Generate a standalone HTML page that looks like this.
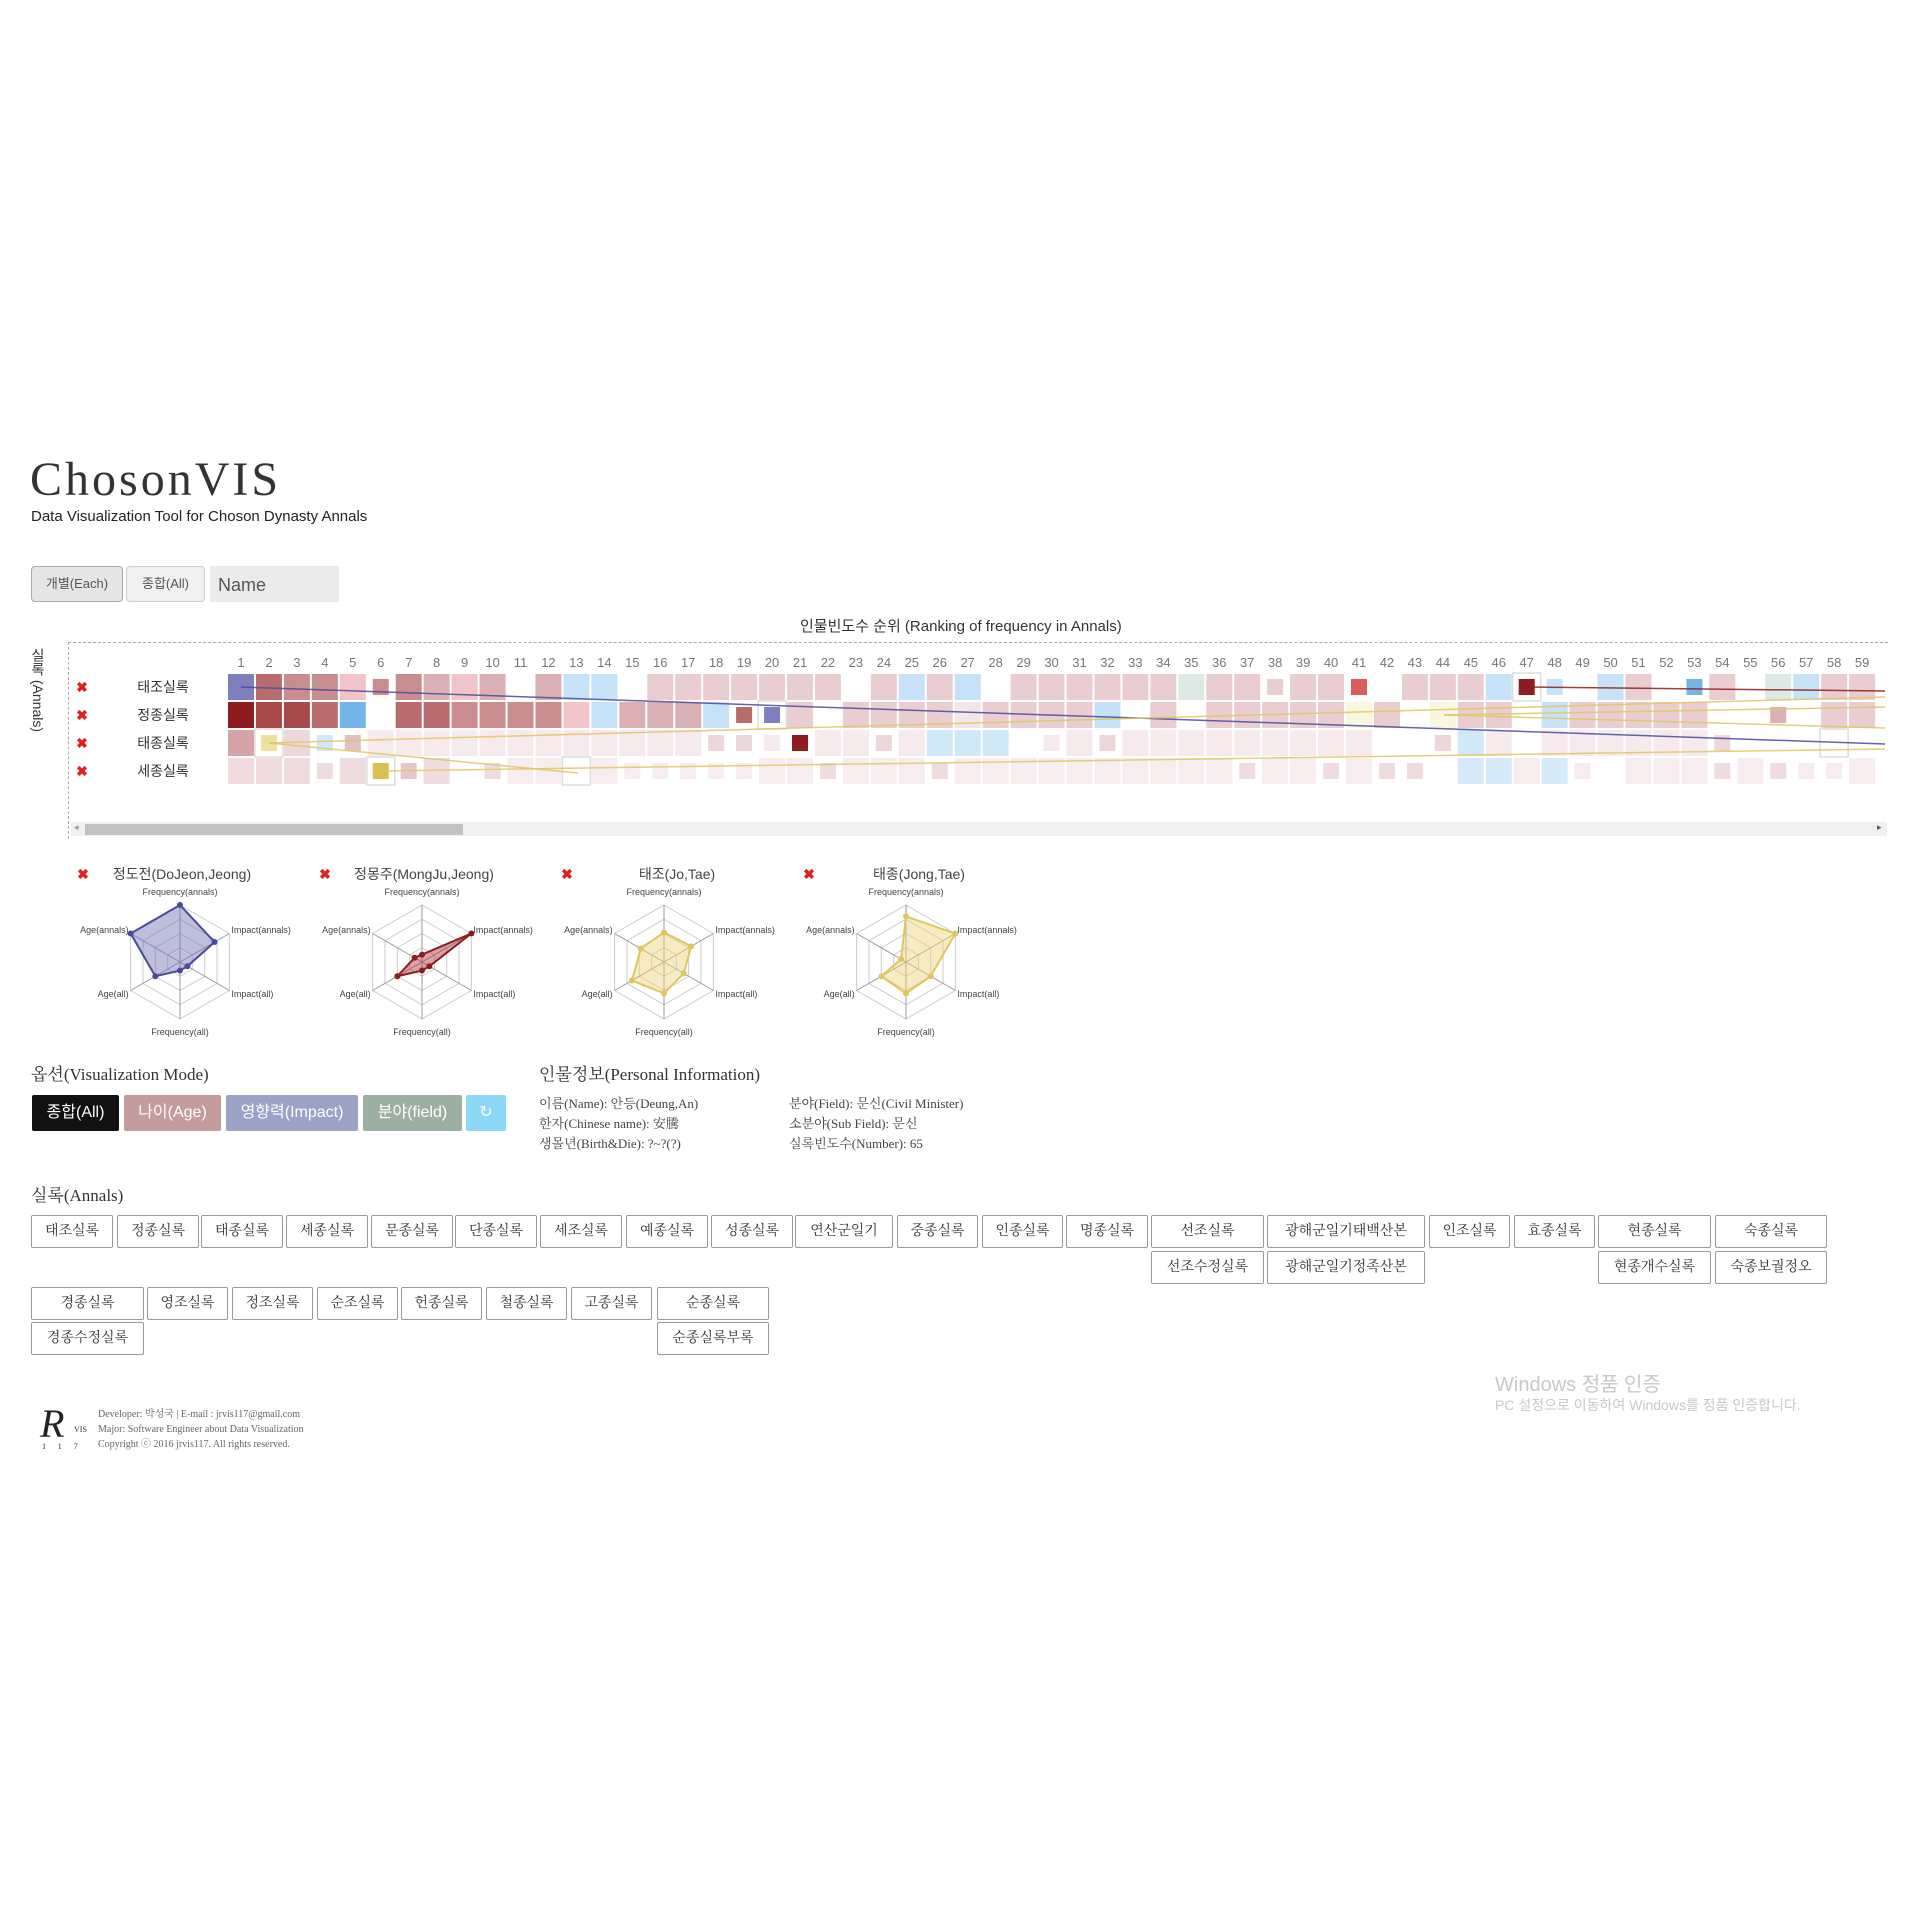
<!DOCTYPE html>
<html><head><meta charset="utf-8">
<style>
body{margin:0;width:1920px;height:1920px;background:#fff;position:relative;font-family:"Liberation Sans","Noto Sans CJK KR",sans-serif;color:#333;overflow:hidden}
.a{position:absolute;white-space:nowrap}
.btn{position:absolute;box-sizing:border-box;border:1px solid #999;background:#fff;font-family:"Liberation Serif","Noto Serif CJK SC","Noto Sans CJK KR",serif;font-size:14px;text-align:center;color:#333;border-radius:2px}
.mb{position:absolute;top:1095px;height:36px;line-height:36px;color:#fff;font-size:16px;text-align:center;border-radius:2px}
.serif{font-family:"Liberation Serif","Noto Serif CJK SC","Noto Sans CJK KR",serif}
</style></head><body>
<div class="a serif" style="left:30px;top:452px;font-size:48px;letter-spacing:3px;color:#333">ChosonVIS</div>
<div class="a" style="left:31px;top:508px;font-size:15px;color:#222">Data Visualization Tool for Choson Dynasty Annals</div>
<div class="a" style="left:31px;top:566px;width:92px;height:36px;box-sizing:border-box;border:1px solid #aaa;border-radius:4px;background:#e6e6e6;font-size:13px;line-height:34px;text-align:center;color:#555">개별(Each)</div>
<div class="a" style="left:126px;top:566px;width:79px;height:36px;box-sizing:border-box;border:1px solid #ccc;border-radius:4px;background:#f0f0f0;font-size:13px;line-height:34px;text-align:center;color:#555">종합(All)</div>
<div class="a" style="left:210px;top:566px;width:129px;height:36px;background:#ebebeb;font-size:18px;line-height:38px;padding-left:8px;box-sizing:border-box;color:#555">Name</div>
<div class="a" style="left:800px;top:615px;font-size:15px;color:#333">인물빈도수 순위 (Ranking of frequency in Annals)</div>
<div class="a" style="left:68px;top:642px;width:1819px;height:196px;border-top:1px dashed #aaa;border-left:1px dashed #aaa"></div>
<div class="a" style="left:28px;top:648px;font-size:14px;writing-mode:vertical-rl;color:#333">실록 (Annals)</div>
<div class="a" style="left:71px;top:822px;width:1816px;height:14px;background:#f0f0f0"></div>
<div class="a" style="left:85px;top:824px;width:378px;height:11px;background:#c1c1c1"></div>
<div class="a" style="left:74px;top:822px;font-size:9px;color:#999">◂</div>
<div class="a" style="left:1877px;top:822px;font-size:9px;color:#555">▸</div>
<svg class="a" id="hm" style="left:0;top:640px" width="1920" height="180"></svg>
<svg class="a" id="rad" style="left:0;top:860px" width="1100" height="190"></svg>

<div class="a serif" style="left:31px;top:1060px;font-size:17px">옵션(Visualization Mode)</div>
<div class="mb" style="left:32px;width:87px;background:#111">종합(All)</div>
<div class="mb" style="left:124px;width:97px;background:#c49c9c">나이(Age)</div>
<div class="mb" style="left:226px;width:132px;background:#9aa3c6">영향력(Impact)</div>
<div class="mb" style="left:363px;width:99px;background:#9cb0a1">분야(field)</div>
<div class="mb" style="left:466px;width:40px;background:#8dd7f7">↻</div>
<div class="a serif" style="left:539px;top:1060px;font-size:17px">인물정보(Personal Information)</div>
<div class="a serif" style="left:539px;top:1094px;font-size:13px;line-height:20px;color:#444">이름(Name): 안등(Deung,An)<br>한자(Chinese name): 安騰<br>생몰년(Birth&amp;Die): ?~?(?)</div>
<div class="a serif" style="left:789px;top:1094px;font-size:13px;line-height:20px;color:#444">분야(Field): 문신(Civil Minister)<br>소분야(Sub Field): 문신<br>실록빈도수(Number): 65</div>
<div class="a serif" style="left:31px;top:1181px;font-size:17px">실록(Annals)</div>
<div id="btns"></div>

<div class="a serif" style="left:40px;top:1400px;font-size:40px;font-style:italic;color:#222">R</div>
<div class="a serif" style="left:74px;top:1425px;font-size:8px">VIS</div>
<div class="a serif" style="left:42px;top:1442px;font-size:8px;letter-spacing:12px">117</div>
<div class="a serif" style="left:98px;top:1407px;font-size:10px;line-height:15px;color:#666">Developer: 박성국 | E-mail : jrvis117@gmail.com<br>Major: Software Engineer about Data Visualization<br>Copyright ⓒ 2016 jrvis117. All rights reserved.</div>
<div class="a" style="left:1495px;top:1368px;font-size:20px;color:#c8c8c8">Windows 정품 인증</div>
<div class="a" style="left:1495px;top:1395px;font-size:14px;color:#c8c8c8">PC 설정으로 이동하여 Windows를 정품 인증합니다.</div>

<script>
var NS="http://www.w3.org/2000/svg";
function el(p,t,a){var e=document.createElementNS(NS,t);for(var k in a)e.setAttribute(k,a[k]);p.appendChild(e);return e;}
var hm=document.getElementById('hm');var oy=640;
var C={P:'#7f7fbd','7':'#8e1c1e','6':'#a84a4c','5':'#b86c6e','4':'#c98d90','3':'#dbb0b4','2':'#e9cdd1','1':'#f4e5e8',p:'#f1c5c8',b:'#c5e2f8',B:'#74b4e6',g:'#dde9e3',Y:'#f0e0a0',y:'#fbf6e0',D:'#dc5c5c',Q:'#d9c050'};
var R=[
"P 5 4 4 p s4 4 3 p 3 . 3 b b . 2 2 2 2 2 2 2 . 2 b 2 b . 2 2 2 2 2 2 g 2 2 s2 2 2 sD . 2 2 2 b so7 sb . b 2 . sB 2 . g b 2 2",
"7 6 6 5 B . 5 5 4 4 4 4 p b 3 3 3 b s5 soP 2 . 2 2 2 2 1 2 2 2 2 b . 2 . 2 2 2 2 2 y 2 . y 2 2 . b 2 2 2 2 2 . . s3 . 2 2",
"4 soY 2 sb s3 1 1 1 1 1 1 1 1 1 1 1 1 s2 s2 s1 s7 1 1 s2 1 b b b . s1 1 s2 1 1 1 1 1 1 1 1 1 . . s2 b 1 . 1 1 1 1 1 1 s2 . . . o",
"2 2 2 s2 2 soQ s3 2 . s2 1 1 o 1 s1 s1 s1 s1 s1 1 1 s2 1 1 1 s2 1 1 1 1 1 1 1 1 1 1 s2 1 1 s2 1 s2 s2 . b b 1 b s1 . 1 1 1 s2 1 s2 s1 s1 1"];
var names=['태조실록','정종실록','태종실록','세종실록'];
function cx(c){return 241+(c-1)*27.95;}
for(var c=1;c<=59;c++){var t=el(hm,'text',{x:cx(c),y:667-oy,'text-anchor':'middle','font-size':13,fill:'#777','font-family':'Liberation Sans'});t.textContent=c;}
for(var r=0;r<4;r++){var cy=687+r*28-oy;
 var t=el(hm,'text',{x:82,y:cy+5,'text-anchor':'middle','font-size':14,'font-weight':'bold',fill:'#e02020'});t.textContent='✖';
 t=el(hm,'text',{x:163,y:cy+5,'text-anchor':'middle','font-size':14,fill:'#333','font-family':'Noto Sans CJK KR'});t.textContent=names[r];
 var tk=R[r].split(' ');var op=r<2?1:(r==2?0.8:0.7);
 for(var c=1;c<=59;c++){var k=tk[c-1]||'.';if(k=='.')continue;var sm=false,ol=false;
  if(k[0]=='s'){sm=true;k=k.slice(1);}if(k[0]=='o'){ol=true;k=k.slice(1);}
  var x=cx(c);
  if(ol)el(hm,'rect',{x:x-14,y:cy-14,width:28,height:28,fill:'#fff',stroke:'#ddd','stroke-width':1.5});
  if(!k)continue;var s=sm?16:26;
  el(hm,'rect',{x:x-s/2,y:cy-s/2,width:s,height:s,fill:C[k],opacity:(ol||k=='7'||k=='D')?1:op});}
}
function L(a,b,c,d,col,w){el(hm,'line',{x1:a,y1:b-oy,x2:c,y2:d-oy,stroke:col,'stroke-width':w||1.5,opacity:.85});}
L(241,687,1885,744,'#4a4a9a');
L(269,743,578,773,'#e0c660');L(269,743,1885,697,'#e0c660');
L(381,771,1885,749,'#e0c660');L(1444,715,1885,707,'#e0c660');L(1444,715,1885,728,'#e0c660');
L(1526,687,1885,691,'#8e1c1e');
var rad=document.getElementById('rad');var ro=860;
var labs=['Frequency(annals)','Impact(annals)','Impact(all)','Frequency(all)','Age(all)','Age(annals)'];
var data=[[1,.7,.15,.15,.5,1],[.13,1,.15,.15,.5,.15],[.52,.55,.4,.55,.65,.47],[.8,1,.5,.55,.5,.1]];
var cols=[['#4a4a9a','rgba(110,110,180,.45)'],['#8e1c1e','rgba(170,50,50,.45)'],['#e0c660','rgba(235,210,120,.45)'],['#e0c660','rgba(235,210,120,.45)']];
var tit=['정도전(DoJeon,Jeong)','정몽주(MongJu,Jeong)','태조(Jo,Tae)','태종(Jong,Tae)'];
for(var i=0;i<4;i++){var X=180+i*242,Y=962-ro,Rr=57;
 function pt(j,f){var a=(90-60*j)*Math.PI/180;return [X+Rr*f*Math.cos(a),Y-Rr*f*Math.sin(a)];}
 for(var l=1;l<=4;l++){var ps=[];for(var j=0;j<6;j++)ps.push(pt(j,l/4).join(','));el(rad,'polygon',{points:ps.join(' '),fill:'none',stroke:'#ccc','stroke-width':1});}
 for(var j=0;j<6;j++){var p=pt(j,1);el(rad,'line',{x1:X,y1:Y,x2:p[0],y2:p[1],stroke:'#999','stroke-width':1});
  var q=pt(j,1.12);var anc=j==0||j==3?'middle':(j<3?'start':'end');var dy=j==0?-3:(j==3?9:3);
  var t=el(rad,'text',{x:j==0||j==3?q[0]:p[0]+(j<3?2:-2),y:q[1]+dy,'text-anchor':anc,'font-size':9,fill:'#444','font-family':'Liberation Sans'});t.textContent=labs[j];}
 var ps=[];for(var j=0;j<6;j++)ps.push(pt(j,data[i][j]).join(','));
 el(rad,'polygon',{points:ps.join(' '),fill:cols[i][1],stroke:cols[i][0],'stroke-width':2});
 for(var j=0;j<6;j++){var p=pt(j,data[i][j]);el(rad,'circle',{cx:p[0],cy:p[1],r:3,fill:cols[i][0]});}
 var t=el(rad,'text',{x:83+i*242,y:879-ro,'text-anchor':'middle','font-size':14,'font-weight':'bold',fill:'#e02020'});t.textContent='✖';
 t=el(rad,'text',{x:i<2?182+i*242:193+i*242,y:879-ro,'text-anchor':'middle','font-size':14,fill:'#444','font-family':'Liberation Sans,Noto Sans CJK KR'});t.textContent=tit[i];}
var f=1.2276;var B=[
[25,92,990,'태조실록'],[95,162,990,'정종실록'],[164,231,990,'태종실록'],[233,300,990,'세종실록'],[302,369,990,'문종실록'],[371,438,990,'단종실록'],[440,507,990,'세조실록'],[510,577,990,'예종실록'],[579,646,990,'성종실록'],[648,728,990,'연산군일기'],[731,797,990,'중종실록'],[800,866,990,'인종실록'],[868,935,990,'명종실록'],[938,1030,990,'선조실록'],[938,1030,1019,'선조수정실록'],[1032,1161,990,'광해군일기태백산본'],[1032,1161,1019,'광해군일기정족산본'],[1164,1230,990,'인조실록'],[1233,1299,990,'효종실록'],[1302,1394,990,'현종실록'],[1302,1394,1019,'현종개수실록'],[1397,1488,990,'숙종실록'],[1397,1488,1019,'숙종보궐정오'],
[25,117,1048,'경종실록'],[25,117,1077,'경종수정실록'],[120,186,1048,'영조실록'],[189,255,1048,'정조실록'],[258,324,1048,'순조실록'],[327,393,1048,'헌종실록'],[396,462,1048,'철종실록'],[465,531,1048,'고종실록'],[535,626,1048,'순종실록'],[535,626,1077,'순종실록부록']];
var h='';B.forEach(function(b){var l=Math.round(b[0]*f),w=Math.round((b[1]-b[0])*f),t=Math.round(b[2]*f);
h+='<div class="btn" style="left:'+l+'px;top:'+t+'px;width:'+w+'px;height:33px;line-height:31px">'+b[3]+'</div>';});
document.getElementById('btns').innerHTML=h;
</script>
</body></html>
